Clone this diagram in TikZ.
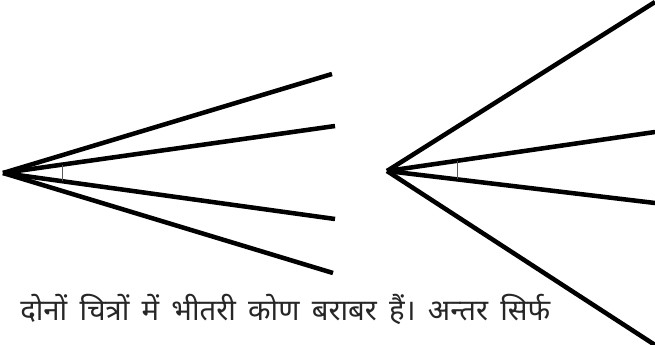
\documentclass[tikz,border=0pt]{standalone}
\usepackage{fontspec}
\newfontfamily\hindifont[Script=Devanagari,WordSpace=1.6]{Noto Sans}
\usetikzlibrary{calc}

\begin{document}
\begin{tikzpicture}[x=0.75pt,y=-0.75pt,
    ray/.style={line width=3.4pt,line cap=butt},
    tick/.style={line width=0.6pt,black!65},
    hindi/.style={anchor=base west,inner sep=0pt,black!85,
      font=\hindifont\fontsize{22}{26}\selectfont}]
    \useasboundingbox (0,0) rectangle (655,345);
    % Venstre figur: toppunkt og stråler
    \coordinate (A) at (3,173);
    \coordinate (A1) at (332,74);
    \coordinate (A2) at (335,126);
    \coordinate (A3) at (335,219);
    \coordinate (A4) at (333,273);
    \foreach \k in {1,...,4}
      \draw[ray] (A) -- (A\k);
    % Markering af den indre vinkel
    \draw[tick] ($(A)!0.18!(A2)$) -- ($(A)!0.18!(A3)$);
    % Højre figur: toppunkt og stråler
    \coordinate (B) at (387,171);
    \coordinate (B1) at (655,2);
    \coordinate (B2) at (655,132);
    \coordinate (B3) at (655,203);
    \coordinate (B4) at (655,345);
    \foreach \k in {1,...,4}
      \draw[ray] (B) -- (B\k);
    \draw[tick] ($(B)!0.263!(B2)$) -- ($(B)!0.263!(B3)$);
    % Tekst under figurerne
    \node[hindi] (txt1) at (20,320)
      {दोनों चित्रों में भीतरी कोण बराबर हैं। अन्तर सिर्फ};
    \node[hindi] (txt2) at (20,373)
      {भुजाओं की लम्बाई में है, कोणों में नहीं।};
  \end{tikzpicture}
\end{document}
